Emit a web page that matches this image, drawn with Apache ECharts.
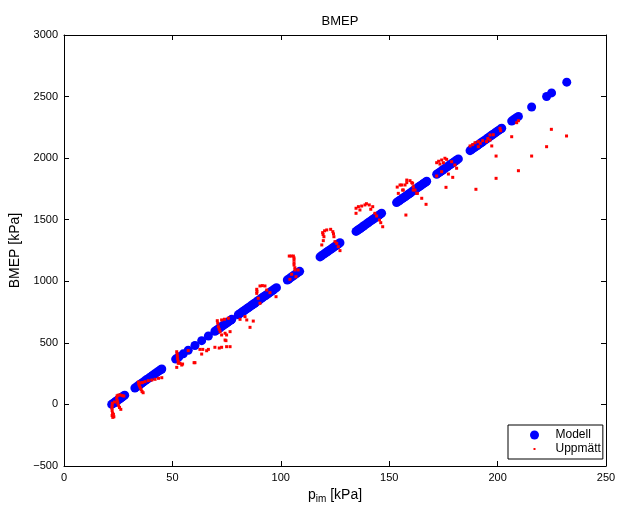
<!DOCTYPE html>
<html>
<head>
<meta charset="utf-8">
<script src="https://cdn.jsdelivr.net/npm/echarts@6/dist/echarts.min.js"></script>
<style>html,body{margin:0;padding:0;background:#fff;}#c{width:621px;height:506px;}</style>
</head>
<body>
<div id="c"></div>
<script>
const chartTitle = 'BMEP';
const seriesNames = ['Modell', 'Uppmätt'];
const xTicks = [0, 50, 100, 150, 200, 250];
const yTicks = [-500, 0, 500, 1000, 1500, 2000, 2500, 3000];

// Modell: [p_im kPa, BMEP kPa]
const modelled = [
  [22,0],[22.5,6],[23,12],[23.5,19],[24,25],[24.5,31],[25,37],[25.5,44],[26,50],[26.5,56],[27,62],[27.5,69],[28,75],
  [32.7,133],[33.5,143],[34.3,153],[35,162],[35.8,172],[36.5,181],[37.3,191],[38,200],[38.8,209],[39.5,218],[40.3,228],[41,237],[41.8,247],[42.5,256],[43.3,266],[44,274],[44.8,284],[45.1,288],
  [51.5,368],[52.3,376],[53,387],[55,411],[57.3,440],[60.4,479],[63.5,518],[66.6,556],[69.6,594],[70.3,602],[71,611],[71.8,621],[72.5,630],[73.2,638],[74,648],[74.7,657],[75.5,667],[76.2,676],[77,686],[77.4,691],
  [80.4,728],[81.1,737],[81.8,746],[82.5,754],[83.2,763],[83.9,772],[84.6,781],[85.3,789],[86,798],[86.7,807],[87.4,816],[88.1,824],[88.8,833],[89.5,842],[90.2,850],[90.9,859],[91.6,868],[92.3,877],[93,885],[93.7,894],[94.4,903],[95.1,912],[95.8,920],[96.5,929],[97.2,938],[98,948],
  [103,1010],[103.7,1019],[104.4,1028],[105.1,1036],[105.8,1045],[106.5,1054],[107.2,1062],[108,1072],[108.7,1081],
  [118.1,1198],[118.8,1207],[119.5,1216],[120.2,1225],[120.9,1233],[121.6,1242],[122.3,1251],[123,1259],[123.7,1268],[124.4,1277],[125.1,1286],[125.8,1294],[126.5,1303],[127.3,1313],
  [134.7,1405],[135.4,1414],[136.1,1423],[136.8,1431],[137.5,1440],[138.2,1449],[138.9,1458],[139.6,1466],[140.3,1475],[141,1484],[141.7,1493],[142.4,1501],[143.1,1510],[143.8,1519],[144.5,1527],[145.2,1536],[145.9,1545],[146.5,1553],
  [153.4,1639],[154.1,1647],[154.8,1656],[155.5,1665],[156.2,1674],[156.9,1682],[157.6,1691],[158.3,1700],[159,1708],[159.7,1717],[160.4,1726],[161.1,1735],[161.8,1743],[162.5,1752],[163.2,1761],[163.9,1770],[164.6,1778],[165.3,1787],[166,1796],[166.7,1804],[167.3,1812],
  [171.9,1869],[172.6,1878],[173.3,1886],[174,1895],[174.7,1904],[175.4,1913],[176.1,1921],[176.8,1930],[177.5,1939],[178.2,1948],[178.9,1956],[179.6,1965],[180.3,1974],[181,1983],[181.9,1994],
  [187.3,2061],[188,2070],[188.7,2079],[189.4,2087],[190.1,2096],[190.8,2105],[191.5,2114],[192.2,2122],[192.9,2131],[193.6,2140],[194.3,2148],[195,2157],[195.7,2166],[196.4,2175],[197.1,2183],[197.8,2192],[198.5,2201],[199.2,2210],[199.9,2219],[200.6,2227],[201.3,2236],[201.9,2243],
  [206.5,2301],[207.3,2311],[208,2319],[208.8,2329],[209.6,2339],
  [215.7,2415],[222.6,2501],[224.9,2530],[231.9,2617]
];

// Uppmätt: [p_im kPa, BMEP kPa]
const measured = [
  [22.3,10],[22.2,-10],[22.1,-30],[22.2,-50],[22.4,-70],[22.2,-90],[22.5,-105],[23.0,-100],[22.8,-80],[23.3,20],[24.5,70],[24.3,50],[24.6,30],[24.8,10],[25.2,-10],[25.6,-25],[26.2,-40],[25.0,75],[25.8,78],[26.8,72],[27.6,68],
  [34.3,182],[34.5,165],[34.8,150],[35.2,135],[35.6,120],[36.0,105],[36.5,95],[37.4,185],[38.9,193],[40.5,198],[42,204],[43.6,212],[45.1,217],[35.5,175],[36.2,178],
  [52,428],[52.2,410],[52.3,390],[52.4,370],[52.7,350],[52.7,334],[54.3,320],[52,301],[53.5,334],[54.7,328],[60,339],[60.4,339],[62.7,447],[64,447],[63.5,409],[65.8,436],[66.6,447],[69.6,464],[71.6,458],[72.7,464],[75,469],[76.6,469],[57.3,437],[74.3,523],[75,564],
  [70.7,680],[70.9,660],[71.2,631],[71.6,610],[72,591],[72.7,686],[74,692],[75.8,700],[74.3,578],[76.6,591],[74.7,518],[72.7,564],
  [88.9,935],[90.4,962],[91.5,965],[92.7,962],[93.5,929],[88.9,902],[89.6,862],[90.4,821],[89,918],[81.2,691],[83.5,713],[84.3,686],[87.3,677],[85.8,626],[97.8,875],[95,908],
  [103.9,1205],[104.8,1205],[105.8,1205],[106.1,1190],[106.1,1173],[106.1,1150],[106.1,1132],[106.5,1110],[106.5,1092],[105,1057],[108,1092],[104.2,1016],[107,1037],
  [119.3,1395],[120.2,1410],[121.2,1417],[123,1422],[124,1403],[124.5,1362],[125,1322],[119.9,1362],[119.6,1330],[118.9,1295],[127.3,1249],[126.5,1281],[125.8,1308],[119.5,1380],[124.3,1385],
  [134.7,1593],[135.8,1606],[137.3,1611],[138.8,1620],[140.8,1620],[142.4,1606],[134.7,1552],[136.5,1579],[143.4,1552],[144.2,1530],[145.5,1498],[146.1,1476],[147,1443],[141.5,1585],[139.5,1630],
  [153.7,1765],[155,1782],[155.8,1782],[157.3,1782],[158.1,1801],[158.1,1822],[159.6,1817],[160.4,1801],[160.8,1796],[161.1,1768],[154.2,1714],[156.2,1741],[156.5,1741],[161.1,1741],[161.9,1741],[162.7,1714],[163,1714],[165,1674],[167,1625],[157.7,1538],
  [171.9,1963],[174.2,1985],[175.7,1999],[173.4,1952],[175,1963],[171.9,1855],[174.2,1890],[177.3,1871],[179.3,1844],[181.1,1918],[176.2,1763],[178.8,1971],[180.3,1944],[172.8,1975],[176.5,1990],
  [187.3,2099],[189.6,2125],[191.1,2134],[193.1,2142],[194.9,2134],[196.5,2188],[196.5,2147],[201.1,2242],[201.4,2223],[191.1,2093],[197.3,2099],[199.3,2017],[199.3,1836],[190,1747],[192,2120],[195.5,2160],[198,2190],[188.5,2110],
  [209.6,2304],[208.8,2288],[206.5,2174],[209.6,1898],[215.7,2017],[222.6,2093],[224.8,2234],[231.8,2180]
];

const FONT = 'Liberation Sans, Arial, Helvetica, sans-serif';
const fmt = v => String(v).replace('-', '\u2212');
const xMin = xTicks[0], xMax = xTicks[xTicks.length - 1], xStep = xTicks[1] - xTicks[0];
const yMin = yTicks[0], yMax = yTicks[yTicks.length - 1], yStep = yTicks[1] - yTicks[0];

const axLine = { show: true, onZero: false, lineStyle: { color: '#000', width: 1 } };
const axTick = { show: true, inside: true, length: 5, lineStyle: { color: '#000', width: 1 } };

const chart = echarts.init(document.getElementById('c'), null, { renderer: 'canvas' });
chart.setOption({
  animation: false,
  backgroundColor: '#fff',
  title: {
    text: chartTitle, left: 335, top: 10, textAlign: 'center',
    textStyle: { fontFamily: FONT, fontSize: 13, fontWeight: 'normal', color: '#000' }
  },
  grid: { left: 64, right: 15, top: 35, bottom: 40, containLabel: false, outerBoundsMode: 'none' },
  legend: {
    data: [
      { name: seriesNames[0], icon: 'circle' },
      { name: seriesNames[1], icon: 'path://M0,0h0.01v0.01h-0.01zM3.5,3.5h2v2h-2zM9,9h0.01v0.01h-0.01z' }
    ],
    orient: 'vertical', left: 508, top: 425,
    itemWidth: 32, itemHeight: 9, itemGap: 2,
    padding: [4, 2, 4, 22],
    borderColor: '#000', borderWidth: 1, backgroundColor: '#fff',
    textStyle: { fontFamily: FONT, fontSize: 12, color: '#000' }
  },
  xAxis: [{
    type: 'value', min: xMin, max: xMax, interval: xStep, position: 'bottom',
    axisLine: axLine, axisTick: axTick, splitLine: { show: false },
    axisLabel: { fontFamily: FONT, fontSize: 11, color: '#000', margin: 6, formatter: fmt },
    name: '{a|p}{s|im}{a| [kPa]}', nameLocation: 'middle', nameGap: 19,
    nameTextStyle: { rich: {
      a: { fontFamily: FONT, fontSize: 14, color: '#000' },
      s: { fontFamily: FONT, fontSize: 10, color: '#000', verticalAlign: 'bottom', padding: [9, 0, 0, 0] }
    } }
  }, {
    type: 'value', min: xMin, max: xMax, interval: xStep, position: 'top',
    axisLine: axLine, axisTick: axTick, splitLine: { show: false }, axisLabel: { show: false }
  }],
  yAxis: [{
    type: 'value', min: yMin, max: yMax, interval: yStep, position: 'left',
    axisLine: axLine, axisTick: axTick, splitLine: { show: false },
    axisLabel: { fontFamily: FONT, fontSize: 11, color: '#000', margin: 6, formatter: fmt },
    name: 'BMEP [kPa]', nameLocation: 'middle', nameGap: 34,
    nameTextStyle: { fontFamily: FONT, fontSize: 14, color: '#000' }
  }, {
    type: 'value', min: yMin, max: yMax, interval: yStep, position: 'right',
    axisLine: axLine, axisTick: axTick, splitLine: { show: false }, axisLabel: { show: false }
  }],
  series: [{
    name: seriesNames[0], type: 'scatter', data: modelled,
    symbol: 'circle', symbolSize: 9,
    itemStyle: { color: '#0000ff', opacity: 1 }, z: 2
  }, {
    name: seriesNames[1], type: 'scatter', data: measured,
    symbol: 'rect', symbolSize: 3,
    itemStyle: { color: '#ff0000', opacity: 1 }, z: 3
  }]
});
</script>
</body>
</html>
